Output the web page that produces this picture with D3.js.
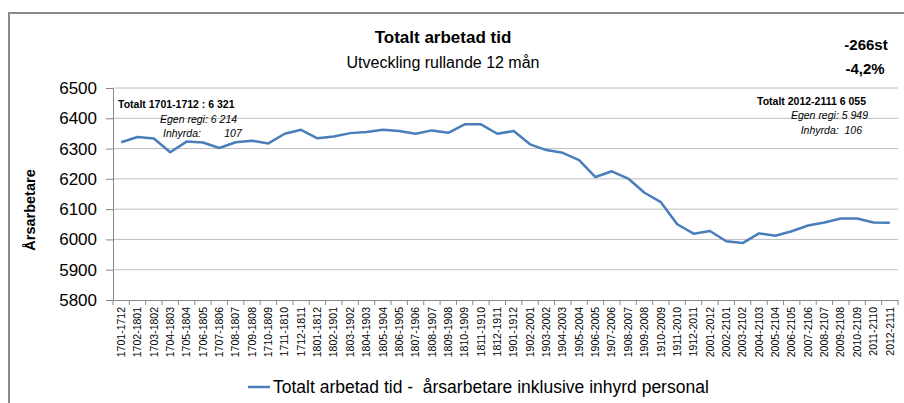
<!doctype html>
<html lang="en">
<head>
  <meta charset="utf-8" />
  <title>Totalt arbetad tid</title>
  <script src="https://cdn.jsdelivr.net/npm/d3@7"></script>
  <style>
    body { margin: 0; background: #fff; }
    text { font-family: "Liberation Sans", Arial, sans-serif; fill: #000; }
  </style>
</head>
<body>
<script type="text/javascript">

  // categories (rolling 12 month periods, yymm-yymm)
  var periods = ["1701-1712","1702-1801","1703-1802","1704-1803","1705-1804","1706-1805",
    "1707-1806","1708-1807","1709-1808","1710-1809","1711-1810","1712-1811",
    "1801-1812","1802-1901","1803-1902","1804-1903","1805-1904","1806-1905",
    "1807-1906","1808-1907","1809-1908","1810-1909","1811-1910","1812-1911",
    "1901-1912","1902-2001","1903-2002","1904-2003","1905-2004","1906-2005",
    "1907-2006","1908-2007","1909-2008","1910-2009","1911-2010","1912-2011",
    "2001-2012","2002-2101","2003-2102","2004-2103","2005-2104","2006-2105",
    "2007-2106","2008-2107","2009-2108","2010-2109","2011-2110","2012-2111"];

  // årsarbetare
  var totals = [6321,6338,6333,6288,6323,6320,6302,6321,6326,6317,6349,6362,
    6334,6340,6351,6355,6362,6358,6349,6360,6352,6380,6380,6349,
    6358,6314,6295,6286,6262,6206,6225,6201,6154,6123,6050,6019,
    6028,5994,5988,6020,6012,6027,6046,6056,6069,6069,6056,6055];

  var yTicks = [5800,5900,6000,6100,6200,6300,6400,6500];

  var W = 904, H = 403;
  var plot = { left: 113, right: 898, top: 88, bottom: 300 };

  var svg = d3.select("body").append("svg")
    .attr("width", W)
    .attr("height", H);

  // outer chart frame (only top and left edge visible)
  svg.append("path")
    .attr("d", "M9," + H + "V13H" + W)
    .attr("fill", "none")
    .attr("stroke", "#8a8a8a")
    .attr("stroke-width", 2);

  var x = d3.scaleBand()
    .domain(periods)
    .range([plot.left, plot.right]);

  var y = d3.scaleLinear()
    .domain([5800, 6500])
    .range([plot.bottom, plot.top]);

  // gridlines
  svg.append("g")
    .selectAll("line")
    .data(yTicks.slice(1))
    .enter().append("line")
      .attr("x1", plot.left)
      .attr("x2", plot.right)
      .attr("y1", function(d) { return y(d); })
      .attr("y2", function(d) { return y(d); })
      .attr("stroke", "#bebebe")
      .attr("stroke-width", 1);

  // y axis
  var yAxis = d3.axisLeft(y).tickValues(yTicks).tickFormat(d3.format("d"))
    .tickSize(7).tickPadding(9);
  var gy = svg.append("g")
    .attr("transform", "translate(" + plot.left + ",0)")
    .call(yAxis);
  gy.select(".domain").attr("stroke", "#888");
  gy.selectAll(".tick line").attr("stroke", "#888");
  gy.selectAll(".tick text")
    .style("font-size", "17px")
    .attr("fill", "#222");

  // x axis: labels centred on categories, ticks on the boundaries
  var xAxis = d3.axisBottom(x).tickSize(0).tickPadding(0);
  var gx = svg.append("g")
    .attr("transform", "translate(0," + plot.bottom + ")")
    .call(xAxis);
  gx.select(".domain").attr("stroke", "#888");
  gx.selectAll(".tick text")
    .style("font-size", "10.5px")
    .attr("fill", "#222")
    .attr("text-anchor", "end")
    .attr("dy", "0.35em")
    .attr("transform", "translate(0,7) rotate(-90)");

  var bounds = periods.map(function(p) { return x(p); }).concat([plot.right]);
  svg.append("g")
    .selectAll("line")
    .data(bounds)
    .enter().append("line")
      .attr("x1", function(d) { return d; })
      .attr("x2", function(d) { return d; })
      .attr("y1", plot.bottom)
      .attr("y2", plot.bottom + 5)
      .attr("stroke", "#888");

  // the series
  var line = d3.line()
    .x(function(d, i) { return x(periods[i]) + x.bandwidth() / 2; })
    .y(function(d) { return y(d); });

  svg.append("path")
    .datum(totals)
    .attr("fill", "none")
    .attr("stroke", "#4a7ebb")
    .attr("stroke-width", 2.5)
    .attr("stroke-linejoin", "round")
    .attr("d", line);

  // titles
  svg.append("text")
    .attr("x", 443).attr("y", 43)
    .attr("text-anchor", "middle")
    .style("font-size", "17px").style("font-weight", "bold")
    .text("Totalt arbetad tid");
  svg.append("text")
    .attr("x", 443).attr("y", 68)
    .attr("text-anchor", "middle")
    .style("font-size", "16px")
    .text("Utveckling rullande 12 mån");

  svg.append("text")
    .attr("x", 866).attr("y", 50)
    .attr("text-anchor", "middle")
    .style("font-size", "15px").style("font-weight", "bold")
    .text("-266st");
  svg.append("text")
    .attr("x", 865).attr("y", 74)
    .attr("text-anchor", "middle")
    .style("font-size", "15px").style("font-weight", "bold")
    .text("-4,2%");

  // y title
  svg.append("text")
    .attr("transform", "translate(35,210) rotate(-90)")
    .attr("text-anchor", "middle")
    .style("font-size", "14.5px").style("font-weight", "bold")
    .text("Årsarbetare");

  // annotations
  var note = svg.append("g").style("font-size", "10.5px");
  note.append("text").attr("x", 118).attr("y", 108)
    .style("font-weight", "bold").text("Totalt 1701-1712 : 6 321");
  note.append("text").attr("x", 160).attr("y", 123)
    .style("font-style", "italic").attr("fill", "#333").text("Egen regi: 6 214");
  note.append("text").attr("x", 163).attr("y", 137)
    .style("font-style", "italic").attr("fill", "#333")
    .attr("xml:space", "preserve").text("Inhyrda:        107");

  note.append("text").attr("x", 866).attr("y", 105).attr("text-anchor", "end")
    .style("font-weight", "bold").text("Totalt 2012-2111 6 055");
  note.append("text").attr("x", 868).attr("y", 119).attr("text-anchor", "end")
    .style("font-style", "italic").attr("fill", "#333").text("Egen regi: 5 949");
  note.append("text").attr("x", 862).attr("y", 134).attr("text-anchor", "end")
    .style("font-style", "italic").attr("fill", "#333")
    .attr("xml:space", "preserve").text("Inhyrda:  106");

  // legend
  var legend = svg.append("g").attr("transform", "translate(248,387)");
  legend.append("line")
    .attr("x1", 0).attr("x2", 22)
    .attr("stroke", "#4a7ebb").attr("stroke-width", 2.5);
  legend.append("text")
    .attr("x", 25).attr("dy", "0.35em")
    .style("font-size", "17.5px").attr("fill", "#222")
    .attr("xml:space", "preserve")
    .text("Totalt arbetad tid -  årsarbetare inklusive inhyrd personal");

</script>
</body>
</html>
